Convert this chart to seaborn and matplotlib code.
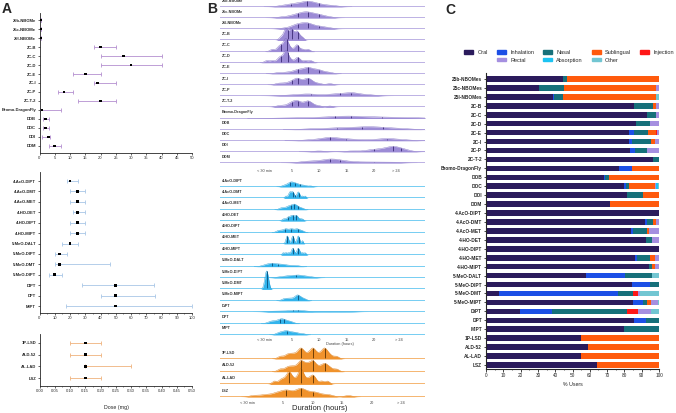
import numpy as np
import pandas as pd
import seaborn as sns
import matplotlib.pyplot as plt
from matplotlib.patches import Patch
from matplotlib.ticker import MultipleLocator

# ---------------- Panel A: dose, median with range ----------------
pheny_names = ['25b-NBOMe', '25c-NBOMe', '25I-NBOMe', '2C-B', '2C-C', '2C-D', '2C-E', '2C-I',
               '2C-P', '2C-T-2', 'Bromo-DragonFly', 'DOB', 'DOC', 'DOI', 'DOM']
pheny_dose = [0.5, 0.5, 0.5, 20, 27.5, 30, 15, 19, 8, 20, 0.8, 2, 2, 3, 5]
pheny_lo = [0.5, 0.5, 0.5, 18, 20, 20, 11, 18, 6, 12.5, 0, 1, 1, 0.8, 3]
pheny_hi = [0.5, 0.5, 0.5, 25, 40, 40, 20, 25, 11, 25, 7, 3, 3, 3.5, 7]

tryp_dose_names = ['4-AcO-DIPT', '4-AcO-DMT', '4-AcO-MET', '4-HO-DET', '4-HO-DIPT', '4-HO-MIPT',
                   '5-MeO-DALT', '5-MeO-DIPT', '5-MeO-DMT', '5-MeO-DIPT', 'DIPT', 'DPT', 'MIPT']
tryp_dose = [20, 25, 25, 25, 25, 25, 20, 13, 13, 10, 50, 50, 50]
tryp_lo = [18, 20, 20, 22, 20, 20, 15, 10, 10, 6, 28, 40, 17.5]
tryp_hi = [25, 30, 30, 30, 30, 30, 25, 18, 46, 15, 75, 76, 100]

lys_names = ['1P-LSD', 'ALD-52', 'AL-LAD', 'LSZ']
lys_dose = [0.15, 0.15, 0.15, 0.15]
lys_lo = [0.10, 0.10, 0.15, 0.10]
lys_hi = [0.20, 0.20, 0.30, 0.20]

# ---------------- Panel B: reported durations (hours) ----------------
pheny_dur = [
    [3, 4, 5, 5, 6, 6, 7, 7, 7.5, 8, 8, 8, 8.5, 9, 9, 10, 10, 11, 12, 13],
    [3, 4.5, 5, 6, 6, 6.5, 7, 7, 7.5, 8, 8, 8, 8.5, 9, 9.5, 10, 10, 11, 12],
    [3.5, 5, 5.5, 6, 6, 6.5, 7, 7, 7.5, 8, 8, 8, 8.5, 9, 10, 10, 11, 12],
    [3, 3.5, 4, 4, 4, 4, 4.5, 5, 5, 5, 5, 5.5, 6, 6, 6, 6.5, 7],
    [1.5, 2.5, 3, 3, 3.5, 4, 4, 4, 4, 4, 4.5, 5, 6, 6, 6, 7, 8],
    [0.5, 1.5, 2.5, 3, 3, 3.5, 4, 4, 4, 4, 4, 4.5, 5, 6, 6, 6.5, 7.5, 8.5],
    [2.5, 4, 5, 6, 6, 6.5, 7, 7.5, 8, 8, 8, 8.5, 9, 9.5, 10, 10, 11, 12],
    [2.5, 3.5, 4.5, 5, 5.5, 6, 6, 6, 6.5, 7, 7.5, 8, 8, 8, 8.5, 9, 10, 12],
    [3, 5, 6, 7, 8, 8, 9, 10, 12, 12, 13, 14, 14, 15, 16, 16, 16, 16, 17, 18, 19, 20],
    [2.5, 3.5, 4.5, 5, 5, 5.5, 6, 6, 6, 6.5, 7, 7.5, 8, 8, 8, 8.5, 9, 10, 12],
    [3, 6, 9, 11, 12, 13, 14, 15, 16, 16, 17, 18, 20, 21, 22, 24, 26, 28],
    [8, 10, 12, 13, 14, 15, 16, 17, 18, 18, 19, 20, 20, 21, 22, 23, 24, 26],
    [8, 10, 11, 12, 12, 12, 13, 14, 15, 16, 18, 20, 22, 22, 23, 24, 26],
    [10, 16, 19, 20, 21, 22, 23, 23, 23.5, 24, 24, 25, 26],
    [7, 8, 9, 10, 11, 12, 12, 12, 13, 13, 14, 15, 16, 18, 20, 22, 24],
]
pheny_bw = [1.0, 0.9, 0.9, 0.35, 0.4, 0.4, 0.7, 0.6, 1.2, 0.6, 2.0, 1.5, 1.4, 1.2, 1.3]
pheny_q = [[5, 7.8, 10], [6.2, 8.1, 10.1], [6.2, 8.1, 10.1], [4.3, 5.1, 6.2], [3.1, 4.1, 6.2],
           [3.1, 4.3, 6.2], [6.2, 8.1, 10.1], [5.1, 6.2, 8.1], [8.5, 13.8, 15.9], [5.1, 6.2, 8.1],
           [12.9, 15.9, 21.5], [13.3, 17.8, 21.7], [12, 15, 22.4], [20, 23.4, 25], [12, 13.8, 20]]

tryp_names = ['4-AcO-DIPT', '4-AcO-DMT', '4-AcO-MET', '4-HO-DET', '4-HO-DIPT', '4-HO-MET', '4-HO-MIPT',
              '5-MeO-DALT', '5-MeO-DIPT', '5-MeO-DMT', '5-MeO-MIPT', 'DiPT', 'DPT', 'MiPT']
tryp_dur = [
    [3.5, 4, 4.5, 4.5, 5, 5, 5, 5.5, 5.5, 6, 6, 6.5, 7, 7.5, 8.5],
    [4, 4.5, 4.75, 4.75, 5, 5.25, 5.25, 5.5, 6, 6.25, 6.25, 6.5, 7, 7.5],
    [3, 3.5, 4, 4.5, 4.5, 5, 5, 5.5, 5.5, 5.5, 6, 6, 6.5, 7],
    [3.5, 4, 4.5, 4.5, 5, 5, 5.25, 5.5, 5.75, 6, 6, 6.5, 7],
    [2.5, 3, 3.5, 4, 4, 4.5, 5, 5, 5.5, 6, 6, 6.5, 7],
    [4, 4.25, 4.25, 4.5, 5, 5.25, 5.25, 5.5, 6, 6.25, 6.25, 6.5, 7],
    [3.5, 4, 4.5, 5, 5.25, 5.25, 5.5, 6, 6.25, 6.25, 6.5, 7, 7.5],
    [0, 0.5, 1, 1.5, 1.5, 2, 2.5, 3, 3.5, 4, 5, 6],
    [2.5, 3.5, 4, 4.5, 5, 5.5, 6, 6, 6.5, 7, 7.5, 8, 9],
    [0.25, 0.35, 0.5, 0.5, 0.5, 0.6, 0.75],
    [3.5, 4, 4.5, 5, 5.5, 6, 6, 6, 6.5, 6.5, 7, 7.5],
    [1, 2, 3, 4, 5, 5.5, 6, 6.5, 7, 8, 10, 12, 14, 16],
    [1, 1.5, 2, 2.5, 3, 3, 3.5, 3.5, 4, 4.5, 5],
    [2.5, 3, 3.5, 4, 4, 4.5, 5, 5.5, 6, 7],
]
tryp_bw = [0.4, 0.2, 0.35, 0.25, 0.35, 0.15, 0.2, 0.6, 0.7, 0.3, 0.4, 1.0, 0.5, 0.5]
tryp_q = [[4.7, 5.6, 6.5], [5.2, 5.6, 6.4], [4.9, 5.5, 6.2], [4.4, 5.2, 5.8], [3.8, 4.9, 6.2],
          [4.2, 5.3, 6.4], [5.3, 6.2], [1.4, 2.5], [5.9], [0.5], [6.2], [5.3, 6.2], [3, 3.6], [4.1]]

lys_dur = [
    [4.5, 5.5, 6, 6.5, 7, 7.5, 8, 8, 8, 8.5, 9, 9.5, 10, 10, 10, 10.5, 11, 11.5, 12, 12, 12, 12.5, 13, 14],
    [4.5, 5.5, 6, 6.5, 7, 7.5, 8, 8, 8, 8.5, 9, 9, 9.5, 10, 10, 10, 10.5, 11, 11.5, 12, 12, 12.5, 13, 14],
    [3.5, 4.5, 5, 5.5, 6, 6, 6, 6.5, 7, 7.5, 8, 8, 8, 8, 8.5, 9, 9.5, 10, 10, 10.5, 11.5, 12.5],
    [0, 1.5, 2.5, 3.5, 4, 4.5, 5, 5.5, 5.5, 6, 6.5, 7, 7.5, 8, 8, 8, 8.5, 9, 9.5, 10, 10.5, 11, 12, 13, 16],
]
lys_bw = [0.45, 0.45, 0.4, 0.7]
lys_q = [[8, 10, 12], [8, 10, 12], [6, 8, 10], [5.5, 8, 10]]

dur_labels = ['< 30 min', '5', '10', '15', '20', '> 24']

# ---------------- Panel C: route of administration (% users) ----------------
route_names = ['25b-NBOMes', '25c-NBOMes', '25I-NBOMes', '2C-B', '2C-C', '2C-D', '2C-E', '2C-I', '2C-P',
               '2C-T-2', 'Bromo-DragonFly', 'DOB', 'DOC', 'DOI', 'DOM', '4-AcO-DIPT', '4-AcO-DMT',
               '4-AcO-MET', '4-HO-DET', '4-HO-DIPT', '4-HO-MET', '4-HO-MIPT', '5-MeO-DALT',
               '5-MeO-DIPT', '5-MeO-DMT', '5-MeO-MIPT', 'DiPT', 'DPT', 'MiPT', '1P-LSD', 'ALD-52',
               'AL-LAD', 'LSZ']
oral = [44.6, 30.8, 38.5, 85.8, 93.3, 86.7, 82.7, 82.5, 83.3, 96.7, 76.7, 68.3, 79.6, 81.7, 71.9, 100,
        91.7, 83.8, 92.3, 100, 86.2, 94.2, 57.7, 84.2, 7.5, 84.8, 19.6, 85.8, 80, 54.8, 58.8, 55, 64.4]
inhalation = [0, 0, 1, 0, 0, 0, 2.7, 1.9, 3.1, 0, 7.9, 0.6, 1.3, 0, 0, 0, 1.3, 1.3, 0, 0, 0.8, 0, 22.9,
              10.4, 68.8, 6, 18.3, 6.9, 0, 0, 0, 0, 0]
nasal = [2.5, 14.2, 5, 11, 4.8, 7.9, 8.1, 11.2, 6.9, 3.3, 0, 2.1, 1.5, 9.2, 0, 0, 3.7, 8.1, 3.8, 0, 7.9,
         1.9, 15.6, 5.4, 8.7, 2.5, 43.8, 7.3, 20, 0, 0, 0, 0]
sublingual = [52.9, 53.2, 53.5, 1.3, 0, 0, 4.6, 2.1, 0, 0, 15.4, 29, 15, 9.1, 28.1, 0, 1.3, 1.3, 0, 0,
              2.5, 1.7, 0, 0, 0, 2.3, 0, 0, 0, 45.2, 41.2, 45, 35.6]
injection = [0, 0, 0, 0, 0, 0, 0.6, 0, 0, 0, 0, 0, 0, 0, 0, 0, 0, 0, 0, 0, 0, 0, 0, 0, 3.1, 0, 6.2, 0, 0,
             0, 0, 0, 0]
rectal = [0, 1.8, 0, 1.9, 1.9, 5.4, 1.3, 2.3, 6.7, 0, 0, 0, 1, 0, 0, 0, 2, 5.5, 3.9, 0, 2.6, 2.2, 0, 0, 1,
          3.6, 7.5, 0, 0, 0, 0, 0, 0]
absorption = [0, 0, 0, 0, 0, 0, 0, 0, 0, 0, 0, 0, 1, 0, 0, 0, 0, 0, 0, 0, 0, 0, 0, 0, 0, 0, 0, 0, 0, 0, 0,
              0, 0]
other = [0, 0, 2, 0, 0, 0, 0, 0, 0, 0, 0, 0, 0.6, 0, 0, 0, 0, 0, 0, 0, 0, 0, 3.8, 0, 10.9, 0.8, 4.6, 0, 0,
         0, 0, 0, 0]
route_labels = ['Oral', 'Inhalation', 'Nasal', 'Sublingual', 'Injection', 'Rectal', 'Absorption', 'Other']
route_colors = ['#2b1b5c', '#1c4fe6', '#16707a', '#ff5a0d', '#ff1717', '#a58fe0', '#1cc3f2', '#72c6d2']

# ---------------- figure ----------------
sns.set_style('ticks')
plt.rcParams['font.family'] = ['Liberation Sans', 'DejaVu Sans']
plt.rcParams['axes.linewidth'] = 0.6

W, H = 676, 413
fig = plt.figure(figsize=(6.76, 4.13), dpi=100)


def px_axes(left, top, right, bottom):
    return fig.add_axes([left / W, 1 - bottom / H, (right - left) / W, (bottom - top) / H])


# Panel A
dose_sets = [
    (pheny_names, pheny_dose, pheny_lo, pheny_hi, '#b48fd0', (13, 153), 50, 5, None),
    (tryp_dose_names, tryp_dose, tryp_lo, tryp_hi, '#a8c6e6', (172, 313), 100, 10, 5),
    (lys_names, lys_dose, lys_lo, lys_hi, '#efb27c', (334, 386), 0.5, 0.05, 0.025),
]
row_pad = [(0.78, 0.78), (0.87, 0.67), (0.77, 0.68)]
for k, (names, med, lo, hi, col, (top, bot), xmax, major, minor) in enumerate(dose_sets):
    ax = px_axes(39.5, top, 192, bot)
    y = np.arange(len(names))
    med, lo, hi = np.array(med), np.array(lo), np.array(hi)
    ax.errorbar(med, y, xerr=[med - lo, hi - med], fmt='none', ecolor=col, elinewidth=0.6,
                capsize=1.4, capthick=0.6)
    sns.scatterplot(x=med, y=y, ax=ax, color='black', marker='s', s=4, edgecolor='none', zorder=3)
    ax.set_yticks(y)
    ax.set_yticklabels(names, fontsize=3, fontweight='bold')
    ax.set_ylim(len(names) - 1 + row_pad[k][1], -row_pad[k][0])
    ax.set_xlim(0, xmax)
    ax.xaxis.set_major_locator(MultipleLocator(major))
    if minor:
        ax.xaxis.set_minor_locator(MultipleLocator(minor))
    if xmax < 1:
        ax.set_xticklabels([f'{v:.2f}' for v in ax.get_xticks()])
    ax.tick_params(axis='both', labelsize=3, length=1.5, width=0.5, pad=1)
    ax.tick_params(axis='x', which='minor', length=1, width=0.4)
    for s in ax.spines.values():
        s.set_linewidth(0.6)
    sns.despine(ax=ax)
fig.text(116 / W, 1 - 408 / H, 'Dose (mg)', fontsize=3.8, ha='center', va='center')


# Panel B: ridgelines
def ridges(names, data, bws, quarts, base0, dy, xlim, ymax, fill, edge, qcol, ticks, tick_gap):
    for i, name in enumerate(names):
        base = base0 + i * dy
        ax = px_axes(220, base - 3 * dy, 425, base)
        ax.patch.set_alpha(0)
        vals = np.array(data[i], dtype=float)
        bw = bws[i] / np.std(vals, ddof=1)
        sns.kdeplot(x=vals, bw_method=bw, fill=True, color=fill, alpha=1, linewidth=0, ax=ax)
        sns.kdeplot(x=vals, bw_method=bw, color=edge, linewidth=0.3, ax=ax)
        xs, ys = ax.lines[-1].get_data()
        for q in quarts[i]:
            ax.vlines(q, 0, np.interp(q, xs, ys), color=qcol, lw=0.6)
        ax.axhline(0, color=fill, lw=1.1, alpha=0.85)
        ax.set_xlim(*xlim)
        ax.set_ylim(0, ymax)
        ax.set_ylabel('')
        ax.set_yticks([])
        sns.despine(ax=ax, left=True, bottom=True)
        ax.text(0.008, 4.5 / (3 * dy), name, transform=ax.transAxes, fontsize=2.7,
                fontweight='bold', color='#333333', va='bottom')
        if i == len(names) - 1:
            ax.set_xticks(ticks)
            ax.set_xticklabels(dur_labels, fontsize=2.8, color='#444444')
            ax.tick_params(axis='x', length=0, pad=tick_gap)
        else:
            ax.set_xticks([])


ridges(pheny_names, pheny_dur, pheny_bw, pheny_q, 7, 11.15, (-8, 29.3), 33 / 37,
       '#9c8bd6', '#7f6cc2', '#3a2a74', [0, 5, 10, 15, 20, 24], 4)
ridges(tryp_names, tryp_dur, tryp_bw, tryp_q, 187, 11.38, (-8, 29.3), 33 / 15,
       '#33b4ec', '#1c98d2', '#0a4d78', [0, 5, 10, 15, 20, 24.5], 2)
ridges(lys_names, lys_dur, lys_bw, lys_q, 359, 12.7, (-5.7, 29), 38 / 70,
       '#f0922b', '#d97a16', '#5a3000', [-1, 5, 10, 15, 20, 25], 3)
fig.text(340 / W, 1 - 344 / H, 'Duration (hours)', fontsize=2.8, ha='center', va='center', color='#444444')
fig.text(320 / W, 1 - 409 / H, 'Duration (hours)', fontsize=5.5, ha='center', va='center')

# Panel C: stacked bars
routes = pd.DataFrame({'Oral': oral, 'Inhalation': inhalation, 'Nasal': nasal, 'Sublingual': sublingual,
                       'Injection': injection, 'Rectal': rectal, 'Absorption': absorption, 'Other': other},
                      index=route_names)
cum = routes[route_labels].cumsum(axis=1)
axc = px_axes(486, 73, 659, 369)
for lab, col in reversed(list(zip(route_labels, route_colors))):
    sns.barplot(x=cum[lab].values, y=route_names, orient='h', color=col, saturation=1,
                width=0.62, linewidth=0, ax=axc)
axc.set_xlim(0, 100)
axc.set_ylim(32.45, -0.67)
axc.xaxis.set_major_locator(MultipleLocator(10))
axc.xaxis.set_minor_locator(MultipleLocator(5))
axc.set_yticks(range(len(route_names)))
axc.set_yticklabels(route_names, fontsize=3.4, fontweight='bold')
axc.tick_params(axis='both', labelsize=3.4, length=1.8, width=0.6, pad=1)
axc.tick_params(axis='y', labelsize=3.4)
axc.tick_params(axis='x', which='minor', length=1, width=0.5)
for s in axc.spines.values():
    s.set_linewidth(0.8)
sns.despine(ax=axc)
axc.set_xlabel('% Users', fontsize=3.8, labelpad=3)
axc.set_ylabel('')

handles = [Patch(color=c, label=l) for l, c in zip(route_labels, route_colors)]
blank = Patch(color='none', label='')
order = [handles[0], blank, handles[1], handles[5], handles[2], handles[6], handles[3], handles[7],
         handles[4], blank]
fig.legend(handles=order, labels=[h.get_label() for h in order], ncol=5, loc='upper center',
           bbox_to_anchor=(569 / W, 1 - 45 / H), frameon=False, fontsize=4, handlelength=1.6,
           handleheight=0.55, columnspacing=1.6, handletextpad=0.8, labelspacing=0.5)

# panel letters
for letter, x, y in [('A', 2, 2), ('B', 207, 2), ('C', 445, 3)]:
    fig.text(x / W, 1 - y / H, letter, fontsize=10, fontweight='bold', va='top', ha='left')

plt.savefig('out.png', dpi=100)
